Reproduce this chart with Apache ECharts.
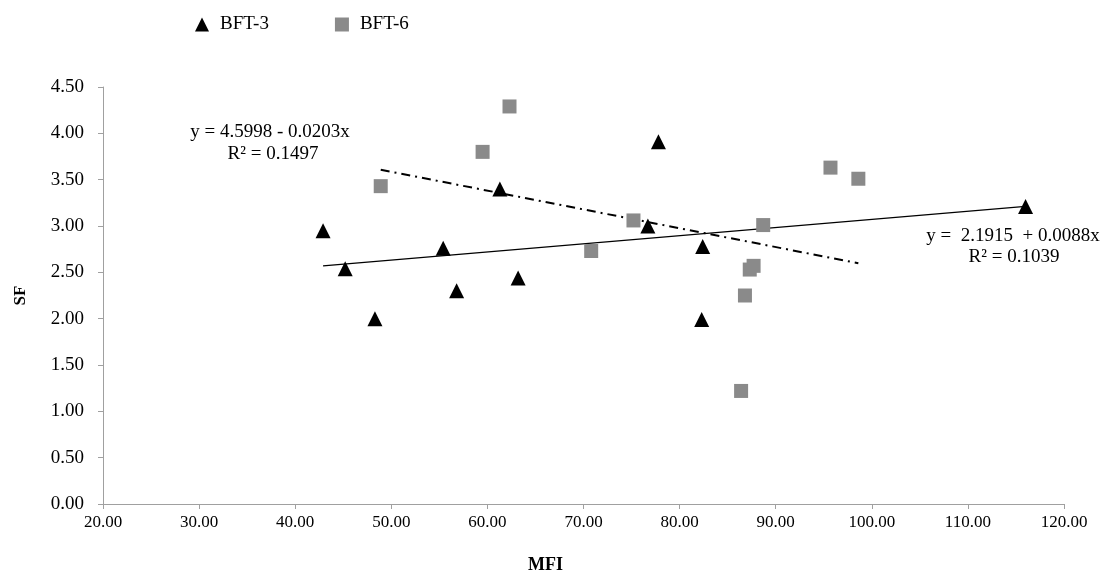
<!DOCTYPE html>
<html>
<head>
<meta charset="utf-8">
<script src="https://cdn.jsdelivr.net/npm/echarts@6/dist/echarts.min.js"></script>
<style>
html,body{margin:0;padding:0;background:#fff;}
#main{width:1114px;height:579px;}
</style>
</head>
<body>
<div id="main"></div>
<script>
// BFT-3 (triangles): MFI, SF
const bft3X = [42.9, 45.2, 48.3, 55.4, 56.8, 61.3, 63.2, 77.8, 76.7, 82.4, 82.3, 116.0];
const bft3Y = [2.95, 2.54, 2.00, 2.76, 2.30, 3.40, 2.44, 3.91, 3.00, 2.78, 1.99, 3.21];
// BFT-6 (squares): MFI, SF
const bft6X = [48.9, 59.5, 62.3, 70.8, 75.2, 95.7, 98.6, 88.7, 87.7, 87.3, 86.8, 86.4];
const bft6Y = [3.43, 3.80, 4.29, 2.73, 3.06, 3.63, 3.51, 3.01, 2.57, 2.53, 2.25, 1.22];
// Trendline coefficients [intercept, slope, R2]
const trend3 = [2.1915, 0.0088, 0.1039];
const trend6 = [4.5998, -0.0203, 0.1497];
const xTicks = [20, 120, 10];
const yTicks = [0, 4.5, 0.5];

function pairs(xs, ys){ return xs.map((x,i)=>[x, ys[i]]); }
function trendLine(xs, c){
  const lo = Math.min(...xs), hi = Math.max(...xs);
  return [[lo, c[0]+c[1]*lo],[hi, c[0]+c[1]*hi]];
}

const chart = echarts.init(document.getElementById('main'), null, {renderer:'canvas'});
const font = 'Liberation Serif, Times New Roman, serif';
const axisCol = '#a0a0a0';
chart.setOption({
  animation:false,
  backgroundColor:'#fff',
  textStyle:{fontFamily:font},
  grid:{left:103, right:50, top:87, bottom:68, containLabel:false},
  legend:{
    left:190, top:10, itemGap:66, itemWidth:14, itemHeight:14,
    data:[{name:'BFT-3', icon:'triangle'},{name:'BFT-6', icon:'rect'}],
    textStyle:{fontFamily:font, fontSize:19, color:'#000', padding:[0,0,0,6]}
  },
  xAxis:{
    type:'value', min:xTicks[0], max:xTicks[1], interval:xTicks[2],
    name:'MFI', nameLocation:'middle', nameGap:52,
    nameTextStyle:{fontFamily:font, fontSize:18, fontWeight:'bold', color:'#000', padding:[0,76,0,0]},
    axisLine:{show:true, lineStyle:{color:axisCol, width:1}},
    axisTick:{show:true, length:5, lineStyle:{color:axisCol}},
    splitLine:{show:false},
    axisLabel:{fontFamily:font, fontSize:17, color:'#000', margin:10, formatter:v=>v.toFixed(2)}
  },
  yAxis:{
    type:'value', min:yTicks[0], max:yTicks[1], interval:yTicks[2],
    name:'SF', nameLocation:'middle', nameGap:74, nameRotate:90,
    nameTextStyle:{fontFamily:font, fontSize:17, fontWeight:'bold', color:'#000'},
    axisLine:{show:true, lineStyle:{color:axisCol, width:1}},
    axisTick:{show:true, length:5, lineStyle:{color:axisCol}},
    splitLine:{show:false},
    axisLabel:{fontFamily:font, fontSize:19, color:'#000', margin:19, formatter:v=>v.toFixed(2)}
  },
  series:[
    {name:'BFT-3 trend', type:'line', data:trendLine(bft3X, trend3), symbol:'none',
     lineStyle:{color:'#000', width:1.2, type:'solid'}, z:1, silent:true},
    {name:'BFT-6 trend', type:'line', data:trendLine(bft6X, trend6), symbol:'none',
     lineStyle:{color:'#000', width:2, type:[9,5,2,5]}, z:1, silent:true},
    {name:'BFT-3', type:'scatter', data:pairs(bft3X, bft3Y), symbol:'triangle', symbolSize:[15,15],
     itemStyle:{color:'#000', opacity:1}, z:3},
    {name:'BFT-6', type:'scatter', data:pairs(bft6X, bft6Y), symbol:'rect', symbolSize:14,
     itemStyle:{color:'#8a8a8a', opacity:1}, z:2}
  ],
  graphic:[
    {type:'text', x:270, y:132, style:{text:'y = ' + trend6[0].toFixed(4) + ' - ' + Math.abs(trend6[1]).toFixed(4) + 'x',
      font:'19px ' + font, fill:'#000', align:'center', verticalAlign:'middle'}},
    {type:'text', x:273, y:154, style:{text:'R\u00b2 = ' + trend6[2].toFixed(4),
      font:'19px ' + font, fill:'#000', align:'center', verticalAlign:'middle'}},
    {type:'text', x:1013, y:236, style:{text:'y =  ' + trend3[0].toFixed(4) + '  + ' + trend3[1].toFixed(4) + 'x',
      font:'19px ' + font, fill:'#000', align:'center', verticalAlign:'middle'}},
    {type:'text', x:1014, y:257, style:{text:'R\u00b2 = ' + trend3[2].toFixed(4),
      font:'19px ' + font, fill:'#000', align:'center', verticalAlign:'middle'}}
  ]
});
</script>
</body>
</html>
